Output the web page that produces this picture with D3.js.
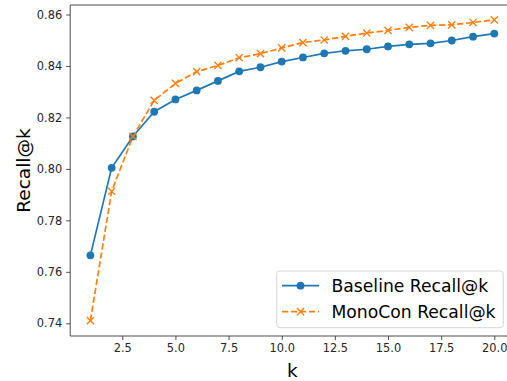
<!DOCTYPE html>
<html><head><meta charset="utf-8">
<script src="https://cdn.jsdelivr.net/npm/d3@7/dist/d3.min.js"></script>
<style>
html,body{margin:0;padding:0;background:#fff;}
svg{display:block;font-family:"DejaVu Sans",sans-serif;}
</style></head>
<body>
<svg id="chart" width="507" height="381"></svg>
<script>
const ks = [1,2,3,4,5,6,7,8,9,10,11,12,13,14,15,16,17,18,19,20];
const baseline = [0.7664,0.8004,0.8126,0.8222,0.8270,0.8305,0.8342,0.8379,0.8395,0.8417,0.8433,0.8449,0.8459,0.8465,0.8476,0.8484,0.8488,0.8499,0.8514,0.8526];
const monocon = [0.7410,0.7913,0.8126,0.8266,0.8332,0.8378,0.8402,0.8432,0.8448,0.8470,0.8491,0.8501,0.8515,0.8528,0.8538,0.8550,0.8558,0.8560,0.8569,0.8579];
const xTicks = [2.5,5.0,7.5,10.0,12.5,15.0,17.5,20.0];
const yTicks = [0.74,0.76,0.78,0.80,0.82,0.84,0.86];
const seriesNames = ["Baseline Recall@k","MonoCon Recall@k"];
const colors = ["#1f77b4","#ff7f0e"];

const svg = d3.select("#chart");
const L = 70.2, R = 514.5, T = 5, B = 336;
const x = d3.scaleLinear().domain([0.05, 20.95]).range([L, R]);
const y = d3.scaleLinear().domain([0.73506, 0.86369]).range([B, T]);
const spineColor = "#3a3a3a";

// axes
const xAxis = d3.axisBottom(x).tickValues(xTicks).tickFormat(d3.format(".1f")).tickSize(4).tickPadding(4);
const yAxis = d3.axisLeft(y).tickValues(yTicks).tickFormat(d3.format(".2f")).tickSize(4).tickPadding(4);
const gx = svg.append("g").attr("transform",`translate(0,${B})`).call(xAxis);
const gy = svg.append("g").attr("transform",`translate(${L},0)`).call(yAxis);
[gx,gy].forEach(g=>{
  g.select(".domain").remove();
  g.selectAll(".tick line").attr("stroke",spineColor).attr("stroke-width",0.9);
  g.selectAll(".tick text").attr("fill","#262626").style("font-size","11.4px").style("font-family","DejaVu Sans");
});

// spines
svg.append("line").attr("x1",L).attr("x2",L).attr("y1",T).attr("y2",B).attr("stroke",spineColor).attr("stroke-width",0.9);
svg.append("line").attr("x1",L).attr("x2",R).attr("y1",B).attr("y2",B).attr("stroke",spineColor).attr("stroke-width",0.9);
svg.append("line").attr("x1",L).attr("x2",R).attr("y1",T).attr("y2",T).attr("stroke",spineColor).attr("stroke-width",0.9);

// lines
const line = d3.line().x((d,i)=>x(ks[i])).y(d=>y(d));
svg.append("path").datum(baseline).attr("d",line).attr("fill","none").attr("stroke",colors[0]).attr("stroke-width",1.7);
svg.append("path").datum(monocon).attr("d",line).attr("fill","none").attr("stroke",colors[1]).attr("stroke-width",1.7).attr("stroke-dasharray","6.3,2.7");

// markers
svg.append("g").selectAll("circle").data(baseline).join("circle")
  .attr("cx",(d,i)=>x(ks[i])).attr("cy",d=>y(d)).attr("r",3.9).attr("fill",colors[0]);
const xm = 3.6;
const crossPath = (cx,cy)=>`M${cx-xm},${cy-xm}L${cx+xm},${cy+xm}M${cx-xm},${cy+xm}L${cx+xm},${cy-xm}`;
svg.append("g").selectAll("path").data(monocon).join("path")
  .attr("d",(d,i)=>crossPath(x(ks[i]),y(d))).attr("stroke",colors[1]).attr("stroke-width",1.4).attr("fill","none");

// axis labels
svg.append("text").attr("x",(L+R)/2).attr("y",376.5).attr("text-anchor","middle")
  .style("font-size","18.5px").attr("fill","#000").text("k");
svg.append("text").attr("transform",`translate(30,${(T+B)/2}) rotate(-90)`).attr("text-anchor","middle")
  .style("font-size","18.5px").attr("fill","#000").text("Recall@k");

// legend
const lg = svg.append("g");
lg.append("rect").attr("x",276.7).attr("y",271).attr("width",226.6).attr("height",56.7).attr("rx",3)
  .attr("fill","#fff").attr("fill-opacity",0.8).attr("stroke","#d0d0d0").attr("stroke-width",0.9);
const rowsY = [285.7, 311.7];
seriesNames.forEach((name,i)=>{
  const yy = rowsY[i];
  const l = lg.append("line").attr("x1",282).attr("x2",319).attr("y1",yy).attr("y2",yy)
    .attr("stroke",colors[i]).attr("stroke-width",1.7);
  if(i===1) l.attr("stroke-dasharray","6.3,2.7");
  if(i===0) lg.append("circle").attr("cx",300.5).attr("cy",yy).attr("r",3.9).attr("fill",colors[0]);
  else lg.append("path").attr("d",crossPath(300.5,yy)).attr("stroke",colors[1]).attr("stroke-width",1.4);
  lg.append("text").attr("x",331.5).attr("y",yy+6).style("font-size","17.2px").attr("fill","#000").text(name);
});
</script>
</body></html>
